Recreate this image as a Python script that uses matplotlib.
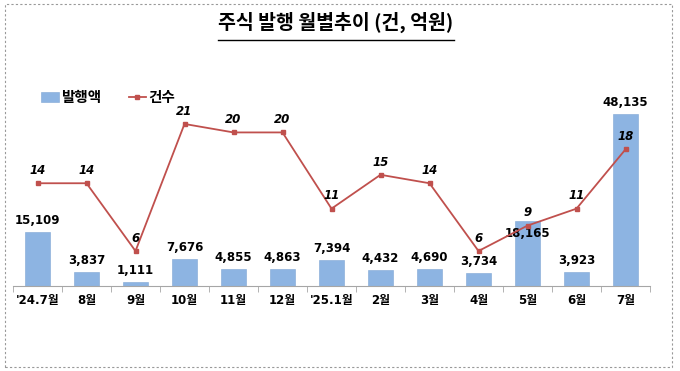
import matplotlib.pyplot as plt
from matplotlib.patches import Rectangle
from matplotlib.lines import Line2D

plt.rcParams['font.family'] = ['DejaVu Sans', 'Noto Sans CJK KR']

months = ["'24.7월", '8월', '9월', '10월', '11월', '12월', "'25.1월",
          '2월', '3월', '4월', '5월', '6월', '7월']
amounts = [15109, 3837, 1111, 7676, 4855, 4863, 7394,
           4432, 4690, 3734, 18165, 3923, 48135]
counts = [14, 14, 6, 21, 20, 20, 11, 15, 14, 6, 9, 11, 18]

BAR_COLOR = '#8DB4E2'
LINE_COLOR = '#C0504D'

fig = plt.figure(figsize=(6.8, 3.71), dpi=100)
W, H = 680, 371

# dashed frame round the chart
fig.patches.append(Rectangle((5 / W, 4 / H), 667 / W, 363 / H,
                             transform=fig.transFigure, fill=False,
                             edgecolor='#999999', linestyle=(0, (2, 2)),
                             linewidth=0.8))

# title with underline
fig.text(336 / W, 1 - 22 / H, '주식 발행 월별추이 (건, 억원)',
         ha='center', va='center', fontsize=14, fontweight='bold',
         family=['Noto Sans CJK KR', 'DejaVu Sans'])
fig.lines.append(Line2D([218 / W, 454 / W], [1 - 40 / H, 1 - 40 / H],
                        transform=fig.transFigure, color='black', linewidth=1))

ax = fig.add_axes([13 / W, 85 / H, 637 / W, 226 / H])
x = range(len(months))
bars = ax.bar(x, amounts, width=0.53, color=BAR_COLOR, zorder=2,
              edgecolor='#7FA6D4', linewidth=0.4, label='발행액')
ax.set_xlim(-0.5, len(months) - 0.5)
ax.set_ylim(0, 63300)

for s in ['left', 'right', 'top']:
    ax.spines[s].set_visible(False)
ax.spines['bottom'].set_color('#A6A6A6')
ax.set_yticks([])
ax.set_xticks(list(x))
ax.set_xticklabels(months, fontsize=8.5, fontweight='bold',
                   family=['DejaVu Sans', 'Noto Sans CJK KR'])
ax.tick_params(axis='x', length=0, pad=6)
ax.set_xticks([i - 0.5 for i in range(len(months) + 1)], minor=True)
ax.tick_params(axis='x', which='minor', length=4, color='#A6A6A6')

bar_offsets = [3.5] * len(amounts)
bar_offsets[10] = -4.5
for xi, v, off in zip(x, amounts, bar_offsets):
    ax.annotate(f'{v:,}', (xi, v), xytext=(0, off), textcoords='offset points',
                ha='center', va='bottom' if off > 0 else 'top',
                fontsize=8.5, fontweight='bold', zorder=5)

ax2 = ax.twinx()
ax2.set_ylim(1.87, 28.55)
ax2.axis('off')
ax2.plot(x, counts, color=LINE_COLOR, marker='s', markersize=3.5,
         linewidth=1.3, label='건수', zorder=3)
for xi, c in zip(x, counts):
    ax2.annotate(str(c), (xi, c), xytext=(0, 4.5), textcoords='offset points',
                 ha='center', va='bottom', fontsize=8.5, fontweight='bold',
                 fontstyle='italic')

handles = [bars, ax2.get_lines()[0]]
fig.legend(handles, ['발행액', '건수'], loc='center left',
           bbox_to_anchor=(28 / W, 1 - 97 / H), ncol=2, frameon=False,
           prop={'family': ['Noto Sans CJK KR'], 'weight': 'bold', 'size': 10.5},
           handlelength=1.2, handletextpad=0.15, columnspacing=1.9)

fig.savefig('out.png', dpi=100)
